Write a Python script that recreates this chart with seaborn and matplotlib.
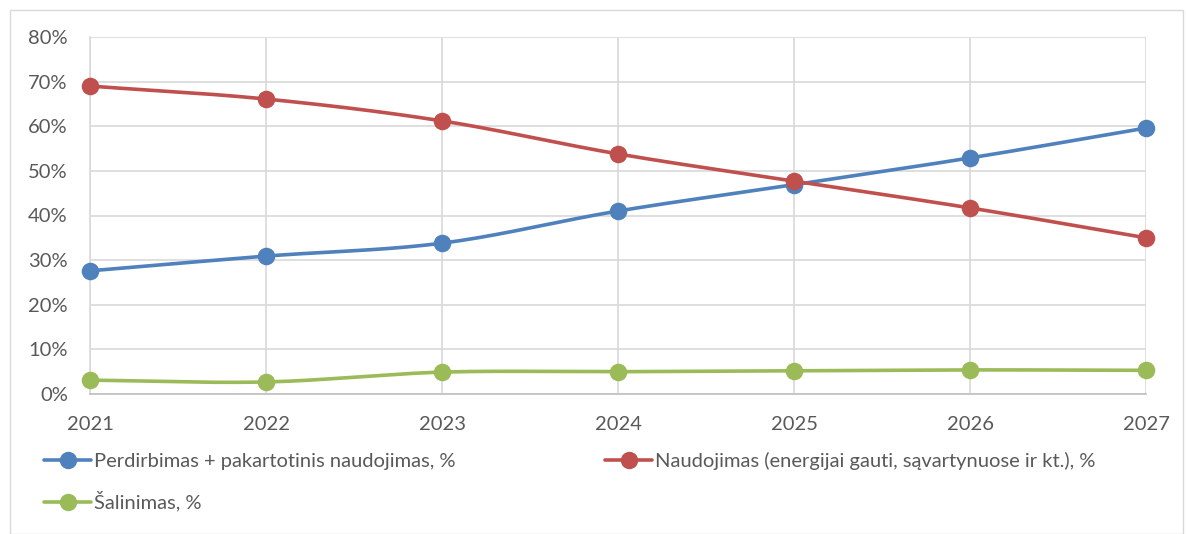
import numpy as np
import pandas as pd
import matplotlib
matplotlib.use("Agg")
import matplotlib.pyplot as plt
import seaborn as sns
from matplotlib.patches import Rectangle
from matplotlib.lines import Line2D
from matplotlib.ticker import PercentFormatter

years = [2021, 2022, 2023, 2024, 2025, 2026, 2027]
perdirbimas = [27.6, 30.9, 33.8, 41.0, 46.9, 52.9, 59.6]
naudojimas = [69.0, 66.1, 61.2, 53.8, 47.7, 41.7, 35.0]
salinimas = [3.1, 2.7, 4.9, 5.0, 5.2, 5.4, 5.3]
labels = ["Perdirbimas + pakartotinis naudojimas, %",
          "Naudojimas (energijai gauti, sąvartynuose ir kt.), %",
          "Šalinimas, %"]
colors = ["#4F81BD", "#C0504D", "#9BBB59"]

sns.set_theme(style="white")
plt.rcParams['font.family'] = ['Lato', 'DejaVu Sans']

def catmull_rom(x, y, n=30):
    x = np.asarray(x, float); y = np.asarray(y, float)
    px = np.concatenate([[2*x[0]-x[1]], x, [2*x[-1]-x[-2]]])
    py = np.concatenate([[2*y[0]-y[1]], y, [2*y[-1]-y[-2]]])
    xs, ys = [], []
    for i in range(1, len(px)-2):
        t = np.linspace(0, 1, n, endpoint=False)
        for p, out in ((px, xs), (py, ys)):
            p0, p1, p2, p3 = p[i-1], p[i], p[i+1], p[i+2]
            out.append(0.5*((2*p1) + (-p0+p2)*t + (2*p0-5*p1+4*p2-p3)*t**2 + (-p0+3*p1-3*p2+p3)*t**3))
    xs.append([x[-1]]); ys.append([y[-1]])
    return np.concatenate(xs), np.concatenate(ys)

W, H = 1186, 534
fig = plt.figure(figsize=(W/100, H/100), dpi=100)
ax = fig.add_axes([90/W, 1-394/H, (1146-90)/W, (394-37)/H])

fig.patches.append(Rectangle((10/W, 0.0), (1183-10)/W, 1-10/H, transform=fig.transFigure,
                             fill=False, edgecolor="#d9d9d9", linewidth=1.0))

FS = 14.5
handles = []
for vals, lab, col in zip([perdirbimas, naudojimas, salinimas], labels, colors):
    sx, sy = catmull_rom(years, vals)
    smooth = pd.DataFrame({"x": sx, "y": sy})
    sns.lineplot(data=smooth, x="x", y="y", ax=ax, color=col, linewidth=2.6, sort=False,
                 zorder=3)
    pts = pd.DataFrame({"x": years, "y": vals})
    sns.scatterplot(data=pts, x="x", y="y", ax=ax, color=col, s=160, edgecolor=col,
                    linewidth=0, zorder=4, clip_on=False)
    handles.append(Line2D([], [], color=col, linewidth=2.6, marker="o", markersize=11.5))

ax.set_xlim(2021, 2027)
ax.set_ylim(0, 80)
ax.set_xticks(years)
ax.set_yticks(range(0, 81, 10))
ax.yaxis.set_major_formatter(PercentFormatter(decimals=0))
ax.set_xlabel("")
ax.set_ylabel("")
ax.grid(True, color="#d9d9d9", linewidth=1.2)
ax.set_axisbelow(True)
for s in ["top", "right"]:
    ax.spines[s].set_visible(False)
ax.spines["left"].set_color("#d9d9d9")
ax.spines["bottom"].set_color("#bfbfbf")
ax.spines["left"].set_linewidth(1.2)
ax.spines["bottom"].set_linewidth(1.2)
ax.tick_params(axis="both", length=0, labelsize=FS, colors="#595959")
ax.tick_params(axis="y", pad=16)
ax.tick_params(axis="x", pad=16)

order = [0, 2, 1]
leg = fig.legend([handles[i] for i in order], [labels[i] for i in order],
                 loc="upper left", bbox_to_anchor=(44/W, 1-452/H), ncol=2, frameon=False,
                 fontsize=FS, handlelength=2.35, handletextpad=0.15, columnspacing=7.4,
                 labelspacing=1.05, borderpad=0, borderaxespad=0)
for t in leg.get_texts():
    t.set_color("#595959")

fig.savefig("out.png", dpi=100)
